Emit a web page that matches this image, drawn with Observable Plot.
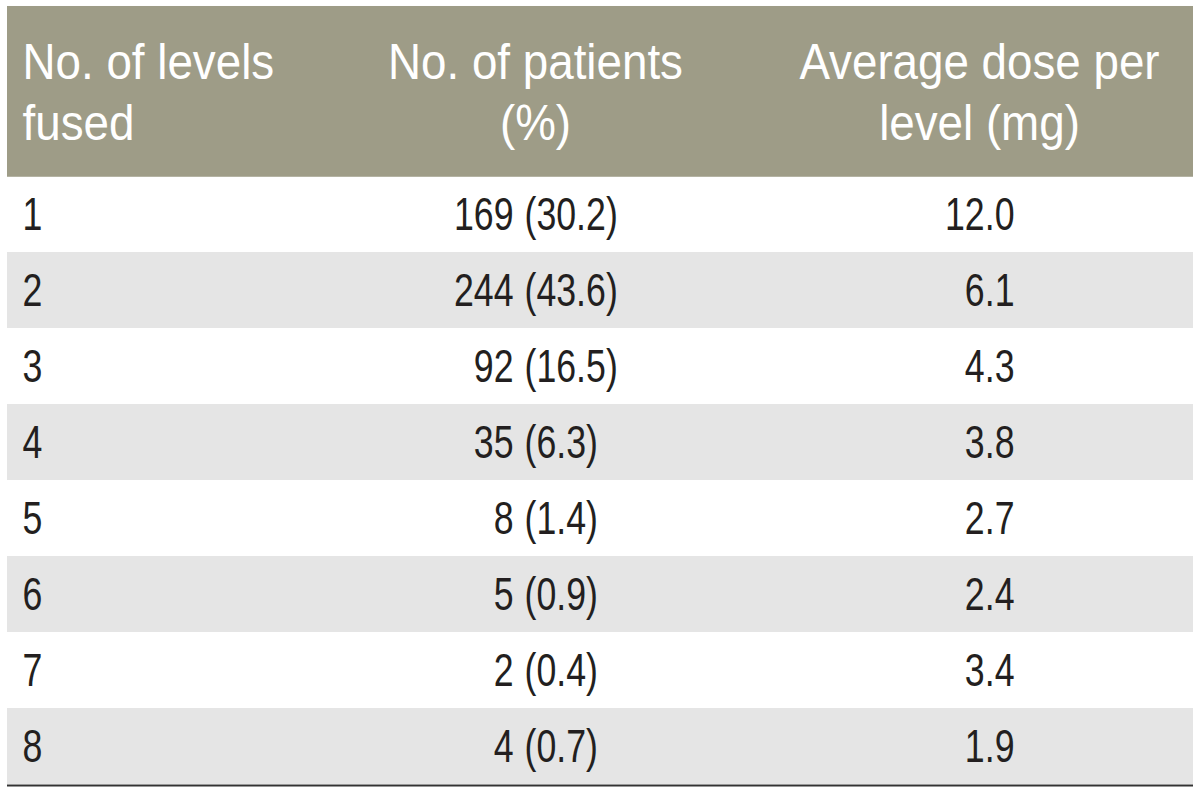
<!DOCTYPE html>
<html>
<head>
<meta charset="utf-8">
<script src="https://cdn.jsdelivr.net/npm/d3@7"></script>
<script src="https://cdn.jsdelivr.net/npm/@observablehq/plot@0.6"></script>
<style>
  html, body { margin: 0; padding: 0; background: #ffffff; }
</style>
</head>
<body>
<div id="chart"></div>
<script>
// ---- data ----
const headers = ["No. of levels\nfused", "No. of patients\n(%)", "Average dose per\nlevel (mg)"];
const levels = [1, 2, 3, 4, 5, 6, 7, 8];
const patients = [169, 244, 92, 35, 8, 5, 2, 4];
const percents = [30.2, 43.6, 16.5, 6.3, 1.4, 0.9, 0.4, 0.7];
const doses = [12.0, 6.1, 4.3, 3.8, 2.7, 2.4, 3.4, 1.9];

// ---- layout ----
const FONT = "'Liberation Sans', Arial, sans-serif";
const tableLeft = 7, tableRight = 1193;
const col1X = 22, numRightX = 513, pctLeftX = 524, doseRightX = 1014;
const head2X = 535, head3X = 979;
const headerTop = -2.237, headerBaseline = -0.474;
const headScale = 0.915, bodyScale = 0.76;

const rows = levels.map((lv, i) => ({
  idx: i,
  level: String(lv),
  n: String(patients[i]),
  pct: "(" + percents[i].toFixed(1) + ")",
  dose: doses[i].toFixed(1)
}));
const shaded = rows.filter(d => d.idx % 2 === 1);

const headStyle = {y: headerBaseline, lineAnchor: "bottom", lineHeight: 1.22, fontSize: 50, fill: "#ffffff", fontFamily: FONT, className: "headtext"};
const bodyStyle = {y: d => d.idx + 0.5, fontSize: 47, fill: "#231f20", fontFamily: FONT, className: "bodytext"};

const chart = Plot.plot({
  width: 1200,
  height: 793,
  margin: 0,
  style: {background: "#ffffff", fontFamily: FONT},
  x: {domain: [0, 1200], range: [0, 1200], axis: null},
  y: {domain: [0, 8], range: [176, 784], axis: null},
  marks: [
    Plot.rect([0], {x1: tableLeft, x2: tableRight, y1: headerTop, y2: 0.01, fill: "#9e9c87"}),
    Plot.rect(shaded, {x1: tableLeft, x2: tableRight, y1: d => d.idx, y2: d => d.idx + 1, fill: "#e5e5e5"}),
    Plot.ruleY([8], {x1: tableLeft, x2: tableRight, stroke: "#333333", strokeWidth: 2, dy: 1}),
    Plot.text([headers[0]], {...headStyle, x: col1X, text: d => d, textAnchor: "start"}),
    Plot.text([headers[1]], {...headStyle, x: head2X, text: d => d, textAnchor: "middle"}),
    Plot.text([headers[2]], {...headStyle, x: head3X, text: d => d, textAnchor: "middle"}),
    Plot.text(rows, {...bodyStyle, x: col1X, text: "level", textAnchor: "start"}),
    Plot.text(rows, {...bodyStyle, x: numRightX, text: "n", textAnchor: "end"}),
    Plot.text(rows, {...bodyStyle, x: pctLeftX, text: "pct", textAnchor: "start"}),
    Plot.text(rows, {...bodyStyle, x: doseRightX, text: "dose", textAnchor: "end"})
  ]
});

// condense glyphs horizontally around each text's anchor point
function condense(sel, s) {
  d3.select(chart).selectAll(sel).each(function() {
    const t = this.getAttribute("transform") || "";
    this.setAttribute("transform", t + ` scale(${s},1)`);
  });
}
condense("g.headtext text", headScale);
condense("g.bodytext text", bodyScale);

document.getElementById("chart").appendChild(chart);
</script>
</body>
</html>
